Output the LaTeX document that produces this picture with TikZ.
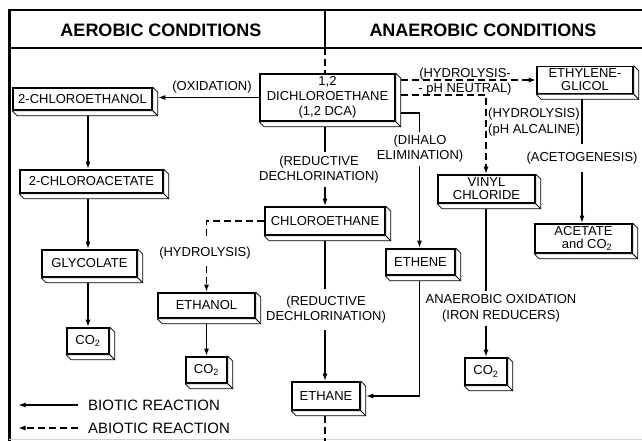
\documentclass[tikz,border=0pt]{standalone}
\usepackage{fontspec}
\setmainfont{Liberation Sans}
\usetikzlibrary{arrows.meta,calc}
\newcommand\extr[1]{%
  \filldraw[fill=white,line width=0.8pt,line join=round] (#1.north east) -- ++(5,5) -- ($(#1.south east)+(5,5)$) -- ($(#1.south west)+(5,5)$) -- (#1.south west) -- (#1.south east) -- cycle;
  \draw[line width=0.8pt] (#1.south east) -- ++(5,5);}
\begin{document}
\begin{tikzpicture}[x=1pt,y=-1pt,
  lab/.style={font=\fontsize{13}{15}\selectfont, align=center, inner xsep=2pt, inner ysep=3pt},
  bx/.style={draw, line width=1.6pt, fill=white, inner sep=0pt, align=center, font=\fontsize{13}{13}\selectfont},
  hdr/.style={font=\bfseries\fontsize{18}{20}\selectfont},
  leg/.style={font=\fontsize{15}{17}\selectfont, anchor=west, inner sep=0pt},
  ln/.style={line width=1.7pt},
  arr/.style={line width=1.7pt, -{Latex[length=7.5pt,width=5pt]}},
  dsh/.style={line width=1.9pt, dash pattern=on 7pt off 4pt},
  darr/.style={dsh, -{Latex[length=7.5pt,width=5pt]}},
  frm/.style={line width=2.8pt}]
\useasboundingbox (0,0) rectangle (642,440);
% header frame
\draw[frm] (642,10) -- (9.5,10) -- (9.5,441);
\draw[frm] (9.5,48) -- (642,48);
\draw[frm] (325,10) -- (325,48);
\draw[gray!35,line width=0.6pt] (9,439) -- (642,439);
\node[hdr] (haer) at (161,30) {AEROBIC CONDITIONS};
\node[hdr] (hana) at (483,30) {ANAEROBIC CONDITIONS};
% boxes
\node[bx, minimum width=135, minimum height=47, font=\fontsize{13}{15}\selectfont] (dca) at (327.5,97.5) {1,2\\DICHLOROETHANE\\(1,2 DCA)};
\node[bx, minimum width=139, minimum height=22] (ceol) at (82.5,99) {2-CHLOROETHANOL};
\node[bx, minimum width=143, minimum height=23] (ceac) at (91.5,181.5) {2-CHLOROACETATE};
\node[bx, minimum width=95, minimum height=27] (glyc) at (89.5,263.5) {GLYCOLATE};
\node[bx, minimum width=42, minimum height=26] (co2a) at (88,341) {CO\textsubscript{2}};
\node[bx, minimum width=120, minimum height=28] (clet) at (325,221) {CHLOROETHANE};
\node[bx, minimum width=97, minimum height=25] (etoh) at (206.5,305.5) {ETHANOL};
\node[bx, minimum width=41, minimum height=26] (co2b) at (206.5,370) {CO\textsubscript{2}};
\node[bx, minimum width=68, minimum height=28] (ethane) at (326,396) {ETHANE};
\node[bx, minimum width=69, minimum height=26] (ethene) at (420.5,262) {ETHENE};
\node[bx, minimum width=97, minimum height=28] (vc) at (486.5,189) {VINYL\\CHLORIDE};
\node[bx, minimum width=42, minimum height=27] (co2c) at (486,371.5) {CO\textsubscript{2}};
\node[bx, minimum width=96, minimum height=27] (eg) at (585,80) {ETHYLENE-\\GLICOL};
\node[bx, minimum width=97, minimum height=29] (acet) at (583.5,238.5) {ACETATE\\\ \ and CO\textsubscript{2}};
\foreach \n in {dca,ceol,ceac,glyc,co2a,clet,etoh,co2b,ethane,ethene,vc,co2c,eg,acet}{\extr{\n}}
% dashed divider (visible above DCA and below ETHANE)
\draw[dsh,line width=2pt] (325,48) -- (dca.north -| 325,0);
\draw[dsh,line width=2pt] ($(ethane.south -| 325,0)+(0,5)$) -- (325,441);
% labels
\node[lab] (oxid) at (212,87) {(OXIDATION)};
\node[lab, inner ysep=4pt] (red1) at (319,169.5) {(REDUCTIVE\\DECHLORINATION)};
\node[lab, inner ysep=7pt] (red2) at (326,309.5) {(REDUCTIVE\\DECHLORINATION)};
\node[lab, inner ysep=6.5pt] (hyd1) at (205,253) {(HYDROLYSIS)};
\node[lab] (dihalo) at (420,149) {(DIHALO\\ELIMINATION)};
\node[lab, font=\fontsize{13}{15}\selectfont] (hydneu) at (465,81.5) {(HYDROLYSIS-\\- pH NEUTRAL)};
\node[lab, align=left, anchor=west, inner xsep=0pt, font=\fontsize{13}{16}\selectfont] (hydalc) at (488,122) {(HYDROLYSIS)\\(pH ALCALINE)};
\node[lab, inner ysep=8pt] (acetog) at (582,158) {(ACETOGENESIS)};
\node[lab, font=\fontsize{13}{16}\selectfont] (anox) at (501,308.5) {ANAEROBIC OXIDATION\\(IRON REDUCERS)};
% column coordinates
\coordinate (cL) at (88,0);
\coordinate (cM) at (325,0);
\coordinate (cH) at (206.5,0);
\coordinate (cE) at (419.5,0);
\coordinate (cV) at (486,0);
\coordinate (cR) at (582,0);
% connectors
\draw[arr] (dca.west) -- ($(ceol.east |- dca.west)+(5,0)$);
\draw[arr] ($(ceol.south -| cL)+(0,5)$) -- (ceac.north -| cL);
\draw[arr] ($(ceac.south -| cL)+(0,5)$) -- (glyc.north -| cL);
\draw[arr] ($(glyc.south -| cL)+(0,5)$) -- (co2a.north -| cL);
\draw[ln] ($(dca.south -| cM)+(0,5)$) -- (red1.north -| cM);
\draw[arr] (red1.south -| cM) -- (clet.north -| cM);
\draw[ln] ($(clet.south -| cM)+(0,5)$) -- (red2.north -| cM);
\draw[arr] (red2.south -| cM) -- (ethane.north -| cM);
\draw[dsh] (clet.west) -| (hyd1.north -| cH);
\draw[darr] (hyd1.south -| cH) -- (etoh.north -| cH);
\draw[arr] ($(etoh.south -| cH)+(0,5)$) -- (co2b.north -| cH);
\draw[ln] ($(dca.east)+(5,15.5)$) -| (dihalo.north -| cE);
\draw[arr] (dihalo.south -| cE) -- (ethene.north -| cE);
\draw[arr] ($(ethene.south -| cE)+(0,5)$) |- ($(ethane.east)+(5,0)$);
\draw[darr] ($(eg.west -| dca.east)+(5,0)$) -- (eg.west);
\draw[darr] ($(dca.east)+(5,-2.5)$) -| (vc.north -| cV);
\draw[ln] ($(eg.south -| cR)+(0,5)$) -- (acetog.north -| cR);
\draw[arr] (acetog.south -| cR) -- (acet.north -| cR);
\draw[ln] ($(vc.south -| cV)+(0,5)$) -- (anox.north -| cV);
\draw[arr] (anox.south -| cV) -- (co2c.north -| cV);
% legend
\coordinate (l1s) at (78,405);
\coordinate (l1e) at (18,405);
\coordinate (l2s) at (78,428);
\coordinate (l2e) at (18,428);
\draw[arr] (l1s) -- (l1e);
\draw[darr] (l2s) -- (l2e);
\node[leg] (lbio) at (88,405) {BIOTIC REACTION};
\node[leg] (labio) at (88,428) {ABIOTIC REACTION};
\end{tikzpicture}
\end{document}
